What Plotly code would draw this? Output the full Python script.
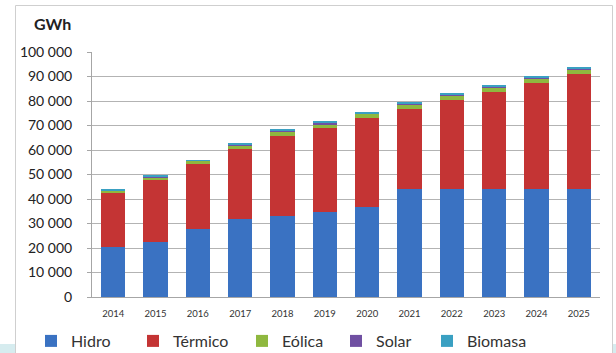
import plotly.graph_objects as go

# Electricity generation by source, GWh
years = ["2014", "2015", "2016", "2017", "2018", "2019",
         "2020", "2021", "2022", "2023", "2024", "2025"]
hidro = [20500, 22600, 27800, 31700, 33200, 34600, 36700, 44100, 44100, 44100, 44100, 44100]
termico = [22100, 25200, 26600, 28700, 32600, 34200, 36200, 32500, 36300, 39700, 43200, 46800]
eolica = [700, 900, 1200, 1500, 1800, 1800, 1800, 1800, 1800, 1900, 2000, 2000]
solar = [100, 300, 100, 500, 400, 500, 400, 500, 400, 400, 400, 400]
biomasa = [300, 400, 200, 600, 600, 600, 500, 600, 500, 600, 500, 600]

y_ticks = [0, 10000, 20000, 30000, 40000, 50000, 60000, 70000, 80000, 90000, 100000]

series = [
    ("Hidro", hidro, "#3a72c2"),
    ("Térmico", termico, "#c43434"),
    ("Eólica", eolica, "#8fb83f"),
    ("Solar", solar, "#7050a2"),
    ("Biomasa", biomasa, "#3aa0c2"),
]

FONT = "Lato, 'Open Sans', sans-serif"

# plot area in pixels: x 92..600, y 52..297
PX_L, PX_R, PX_T, PX_B = 92, 600, 52, 297
W, H = 616, 353


def px(x):
    return (x - PX_L) / (PX_R - PX_L)


def py(y):
    return (PX_B - y) / (PX_B - PX_T)


legend_text_x = [68, 170, 279, 373, 464]

fig = go.Figure()
legends = {}
for i, (name, vals, color) in enumerate(series):
    key = "legend" if i == 0 else f"legend{i + 1}"
    fig.add_trace(go.Bar(
        x=years, y=vals, name=name,
        marker=dict(color=color, line=dict(width=0)),
        legend=key,
        hoverinfo="skip",
    ))
    legends[key] = dict(
        x=px(legend_text_x[i] - 37), xanchor="left",
        y=py(341), yanchor="middle",
        orientation="h",
        bgcolor="rgba(0,0,0,0)",
        borderwidth=0,
        font=dict(family=FONT, size=16, color="#333333"),
        itemclick=False, itemdoubleclick=False,
    )

fig.update_layout(
    width=W, height=H,
    margin=dict(l=PX_L, r=W - PX_R, t=PX_T, b=H - PX_B, autoexpand=False),
    paper_bgcolor="white",
    plot_bgcolor="white",
    barmode="stack",
    bargap=0.43,
    separators=", ",
    showlegend=True,
    font=dict(family=FONT, color="#222222"),
    shapes=[
        # page band along the bottom
        dict(type="rect", xref="paper", yref="paper",
             x0=px(0), x1=px(W), y0=py(344), y1=py(H + 2),
             fillcolor="#d6ecef", line=dict(width=0), layer="below"),
        # white chart frame
        dict(type="rect", xref="paper", yref="paper",
             x0=px(15.5), x1=px(612.5), y0=py(H + 10), y1=py(5.5),
             fillcolor="white", line=dict(color="#cfcfcf", width=1), layer="below"),
    ],
    annotations=[
        dict(text="<b>GWh</b>", xref="paper", yref="paper",
             x=px(52), y=py(24), xanchor="center", yanchor="middle",
             showarrow=False, font=dict(family=FONT, size=16, color="#222222")),
    ],
    **legends,
)

fig.update_xaxes(
    type="category",
    showgrid=False,
    showline=True, linecolor="#a6a6a6", linewidth=1,
    ticks="", ticklabelstandoff=8,
    tickfont=dict(family=FONT, size=9.5, color="#333333"),
)
fig.update_yaxes(
    range=[0, 100000],
    tickvals=y_ticks,
    tickformat=",d",
    showgrid=True, gridcolor="#b3b3b3", gridwidth=1,
    showline=True, linecolor="#a6a6a6", linewidth=1,
    ticks="outside", ticklen=4, tickcolor="#a6a6a6",
    ticklabelstandoff=12,
    zeroline=False,
    tickfont=dict(family=FONT, size=14, color="#222222"),
)

fig.write_html("out.html")
